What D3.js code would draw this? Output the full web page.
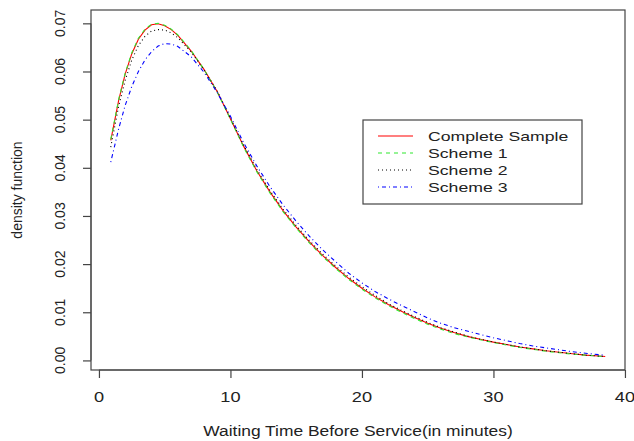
<!DOCTYPE html>
<html lang="en">
<head>
  <meta charset="UTF-8">
  <title>Density of Waiting Time</title>
  <script src="https://d3js.org/d3.v7.min.js"></script>
  <style>
    body {
      margin: 0;
      background-color: #fff;
    }
    text {
      font-family: "Liberation Sans", Arial, sans-serif;
      fill: #222;
    }
    .frame {
      fill: none;
      stroke: #444;
      stroke-width: 1.2px;
    }
    .series {
      fill: none;
      stroke-width: 1.1px;
    }
  </style>
</head>
<body>
  <svg width="634" height="441"></svg>
  <script>
    const svg = d3.select("svg");

    // waiting time grid (minutes)
    const waitTimes = [0.9, 1.5, 2, 2.5, 3, 3.5, 4, 4.5, 5, 5.5, 6, 7, 8, 9, 10,
      11, 12, 13, 14, 15, 16, 17, 18, 19, 20, 21, 22, 23, 24, 25, 26, 27, 28, 29,
      30, 31, 32, 33, 34, 35, 36, 37, 38, 38.5];

    const completeSample = [0.0457, 0.0540, 0.0595, 0.0637, 0.0667, 0.0686, 0.0697, 0.0699, 0.0695, 0.0687, 0.0675,
      0.0643, 0.0604, 0.0558, 0.0502, 0.0445, 0.0394, 0.0350, 0.0311, 0.0277, 0.0246, 0.0218, 0.0193, 0.0170,
      0.0150, 0.0132, 0.0116, 0.0102, 0.0089, 0.0077, 0.0067, 0.0058, 0.0050, 0.0044, 0.0038, 0.0033, 0.0028,
      0.0024, 0.0020, 0.0017, 0.0014, 0.0011, 0.00092, 0.0008];

    const scheme1 = [0.0459, 0.0542, 0.0597, 0.0639, 0.0669, 0.0688, 0.0698, 0.0700, 0.0696, 0.0688, 0.0676,
      0.0644, 0.0604, 0.0557, 0.0501, 0.0443, 0.0392, 0.0348, 0.0309, 0.0275, 0.0244, 0.0216, 0.0191, 0.0168,
      0.0148, 0.0130, 0.0114, 0.0100, 0.0087, 0.0075, 0.0065, 0.0056, 0.0049, 0.0043, 0.0037, 0.0032, 0.0027,
      0.0023, 0.0019, 0.0016, 0.0013, 0.0011, 0.00088, 0.00078];

    const scheme2 = [0.0443, 0.0528, 0.0582, 0.0624, 0.0654, 0.0673, 0.0684, 0.0687, 0.0686, 0.0680, 0.0670,
      0.0641, 0.0603, 0.0559, 0.0503, 0.0447, 0.0397, 0.0353, 0.0314, 0.0280, 0.0249, 0.0221, 0.0196, 0.0173,
      0.0153, 0.0135, 0.0118, 0.0104, 0.0091, 0.0079, 0.0068, 0.0059, 0.0051, 0.0044, 0.0038, 0.0033, 0.0028,
      0.0024, 0.0020, 0.0017, 0.0014, 0.0011, 0.0009, 0.0008];

    const scheme3 = [0.0412, 0.0481, 0.0530, 0.0569, 0.0600, 0.0624, 0.0641, 0.0653, 0.0658, 0.0657, 0.0652,
      0.0631, 0.0598, 0.0556, 0.0507, 0.0452, 0.0404, 0.0361, 0.0323, 0.0289, 0.0258, 0.0230, 0.0205, 0.0181,
      0.0161, 0.0143, 0.0128, 0.0114, 0.0101, 0.0088, 0.0077, 0.0068, 0.0061, 0.0054, 0.0047, 0.0041, 0.0035,
      0.0030, 0.0026, 0.0022, 0.0018, 0.0015, 0.0012, 0.0011];

    const seriesNames = ["Complete Sample", "Scheme 1", "Scheme 2", "Scheme 3"];
    const seriesValues = [completeSample, scheme1, scheme2, scheme3];
    const seriesColors = ["#ff0000", "#2ee82e", "#000000", "#0000ff"];
    const seriesDashes = [null, "4,4", "1,3", "1,3,4,3"];

    const xTicks = [0, 10, 20, 30, 40];
    const yTicks = [0, 0.01, 0.02, 0.03, 0.04, 0.05, 0.06, 0.07];

    // R style: data range padded 4% each side
    const pad = ([a, b]) => [a - (b - a) * 0.04, b + (b - a) * 0.04];
    const xDomain = pad(d3.extent(waitTimes));
    const yDomain = pad(d3.extent(seriesValues.flat()));

    const plotL = 91, plotR = 625, plotT = 10, plotB = 370;
    const x = d3.scaleLinear().domain(xDomain).range([plotL, plotR]);
    const y = d3.scaleLinear().domain(yDomain).range([plotB, plotT]);

    const sx = 1.3; // horizontal text looks stretched in the original

    // curves
    const line = d3.line()
      .x((d, i) => x(waitTimes[i]))
      .y(d => y(d));

    seriesValues.forEach((vals, k) => {
      svg.append("path")
        .datum(vals)
        .attr("class", "series")
        .attr("stroke", seriesColors[k])
        .attr("stroke-dasharray", seriesDashes[k])
        .attr("d", line);
    });

    // frame
    svg.append("rect")
      .attr("class", "frame")
      .attr("x", plotL)
      .attr("y", plotT)
      .attr("width", plotR - plotL)
      .attr("height", plotB - plotT);

    // x axis
    const xAxis = svg.append("g")
      .attr("transform", `translate(0,${plotB})`)
      .call(d3.axisBottom(x).tickValues(xTicks).tickSize(8).tickFormat(""));
    xAxis.select(".domain")
      .attr("d", `M${x(0)},0H${x(40)}`)
      .attr("stroke", "#444");
    xAxis.selectAll(".tick line").attr("stroke", "#444").attr("stroke-width", 1.2);

    svg.selectAll(".xlab")
      .data(xTicks)
      .enter()
      .append("text")
      .attr("class", "xlab")
      .attr("transform", d => `translate(${x(d)},402) scale(${sx},1)`)
      .attr("text-anchor", "middle")
      .attr("font-size", 14)
      .text(d => d);

    // y axis
    const yAxis = svg.append("g")
      .attr("transform", `translate(${plotL},0)`)
      .call(d3.axisLeft(y).tickValues(yTicks).tickSize(8).tickFormat(""));
    yAxis.select(".domain")
      .attr("d", `M0,${y(0)}V${y(0.07)}`)
      .attr("stroke", "#444");
    yAxis.selectAll(".tick line").attr("stroke", "#444").attr("stroke-width", 1.2);

    svg.selectAll(".ylab")
      .data(yTicks)
      .enter()
      .append("text")
      .attr("class", "ylab")
      .attr("transform", d => `translate(65,${y(d)}) rotate(-90)`)
      .attr("text-anchor", "middle")
      .attr("font-size", 14)
      .text(d => d3.format(".2f")(d));

    // axis titles
    svg.append("text")
      .attr("transform", `translate(${(plotL + plotR) / 2},436) scale(1.2,1)`)
      .attr("text-anchor", "middle")
      .attr("font-size", 14.5)
      .text("Waiting Time Before Service(in minutes)");

    svg.append("text")
      .attr("transform", `translate(22,${(plotT + plotB) / 2}) rotate(-90)`)
      .attr("text-anchor", "middle")
      .attr("font-size", 14)
      .text("density function");

    // legend
    const legend = svg.append("g").attr("transform", "translate(363,120)");
    legend.append("rect")
      .attr("width", 219)
      .attr("height", 84)
      .attr("fill", "#fff")
      .attr("stroke", "#444")
      .attr("stroke-width", 1.2);

    const rows = legend.selectAll(".row")
      .data(seriesNames)
      .enter()
      .append("g")
      .attr("transform", (d, i) => `translate(0,${16 + i * 17})`);

    rows.append("line")
      .attr("x1", 15)
      .attr("x2", 50)
      .attr("stroke", (d, i) => seriesColors[i])
      .attr("stroke-dasharray", (d, i) => seriesDashes[i])
      .attr("stroke-width", 1.1);

    rows.append("text")
      .attr("transform", "translate(65,5) scale(1.36,1)")
      .attr("font-size", 13)
      .text(d => d);
  </script>
</body>
</html>
